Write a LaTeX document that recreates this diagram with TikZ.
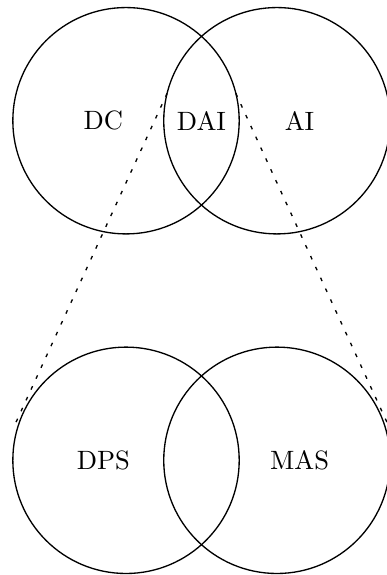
\documentclass[tikz,border=0pt]{standalone}
\begin{document}
\begin{tikzpicture}[
  setcircle/.style={circle, draw, line width=0.5pt, minimum size=3cm, inner sep=0pt, outer sep=0pt},
  lbl/.style={inner sep=1pt},
  link/.style={line width=0.5pt, dash pattern=on 1.4pt off 3.1pt}
]
\useasboundingbox (-1.67,-6.02) rectangle (3.45,1.6);
\node[setcircle] (dc) at (0,0) {};
\node[setcircle] (ai) at (2,0) {};
\node[setcircle] (dps) at (0,-4.5) {};
\node[setcircle] (mas) at (2,-4.5) {};
\node[lbl] (tdc) at (-0.3,0) {DC};
\node[lbl] (tdai) at (1,0) {DAI};
\node[lbl] (tai) at (2.3,0) {AI};
\node[lbl] (tdps) at (-0.3,-4.5) {DPS};
\node[lbl] (tmas) at (2.3,-4.5) {MAS};
\coordinate (lend) at (-1.46,-4.0);
\coordinate (rend) at (3.46,-4.0);
\draw[link] (ai.166) -- (lend);
\draw[link] (dc.14) -- (rend);
\end{tikzpicture}
\end{document}
